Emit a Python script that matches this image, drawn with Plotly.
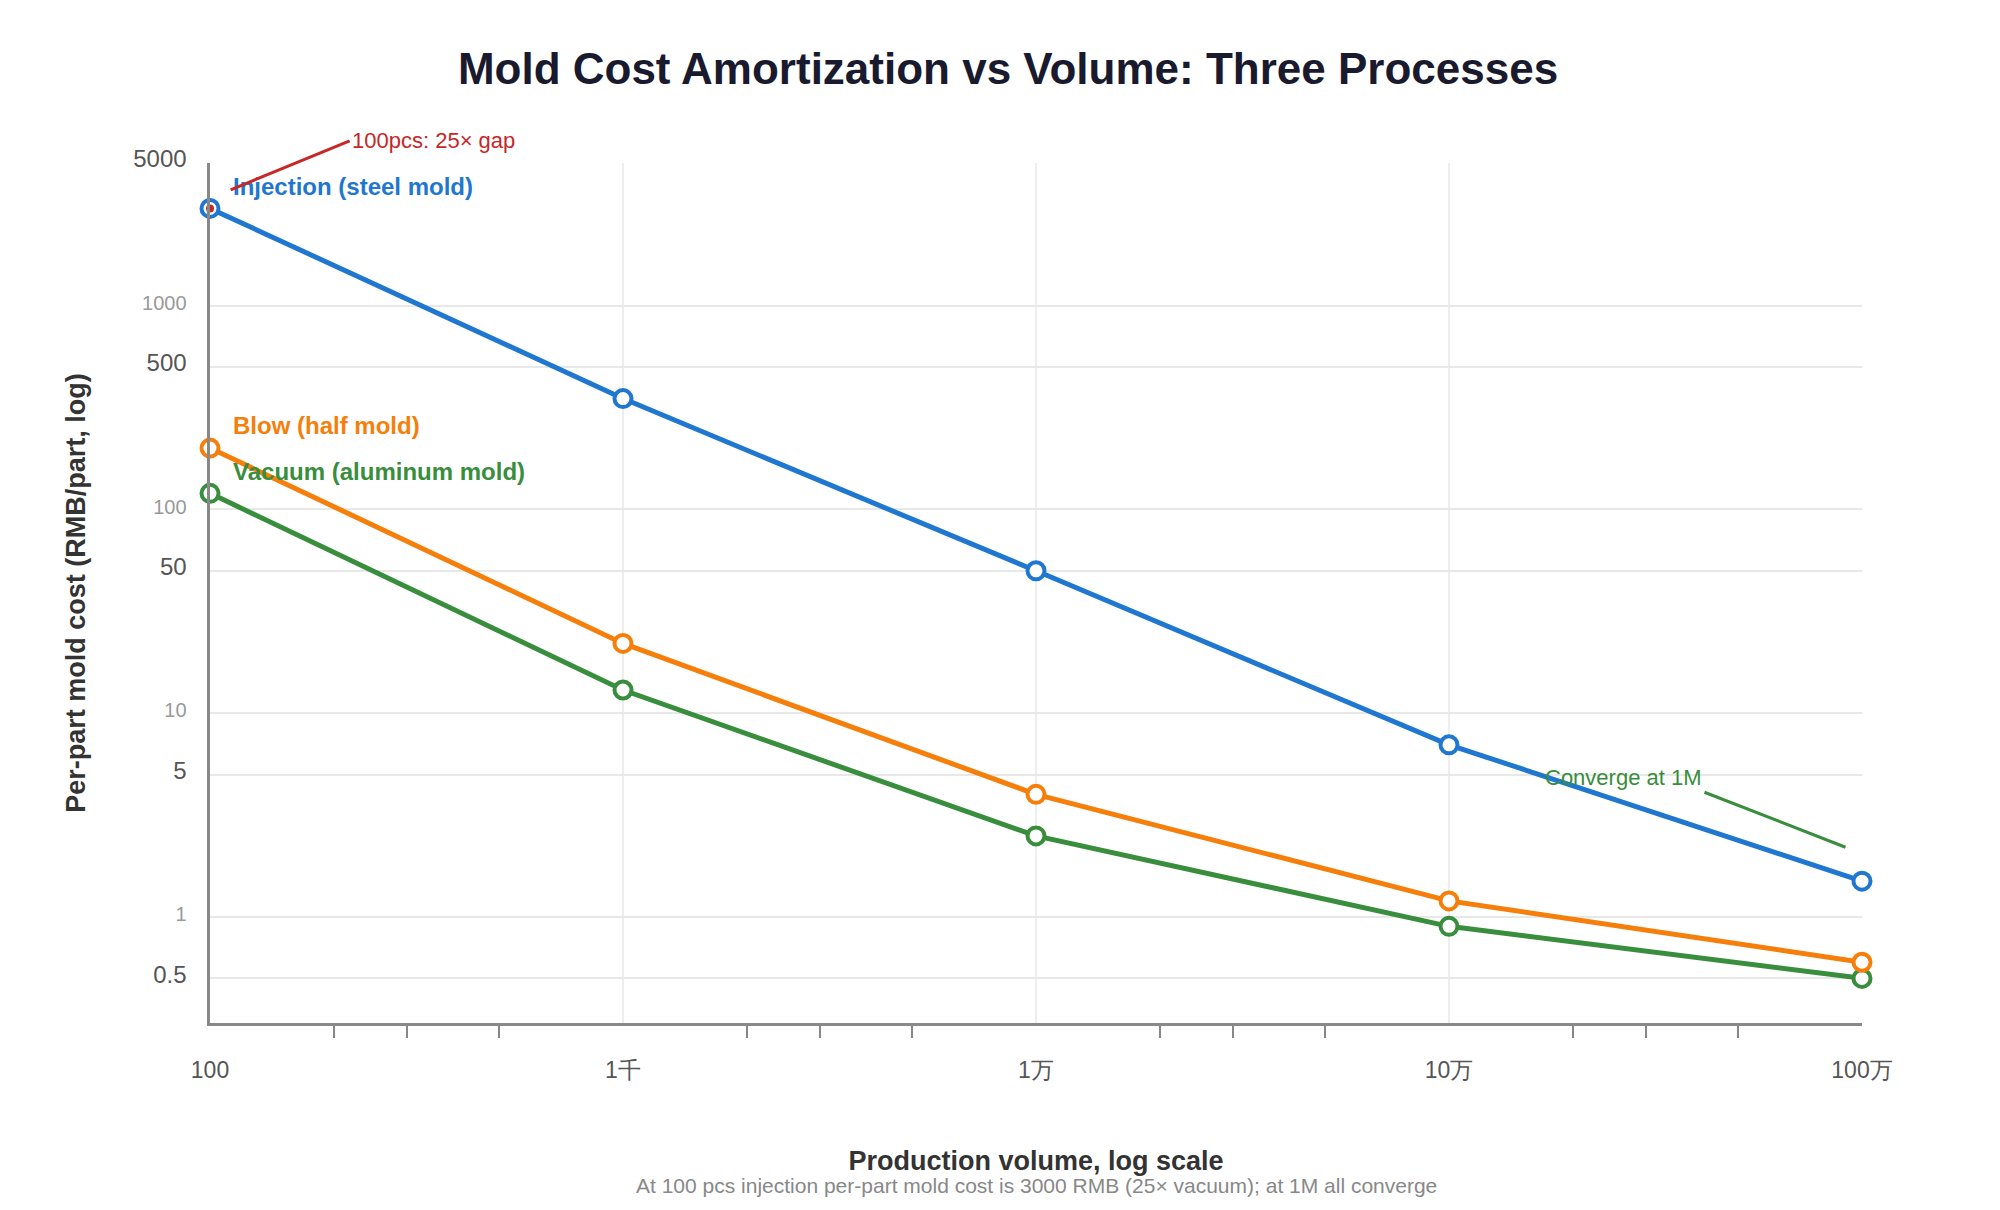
import math
import plotly.graph_objs as go

# Data
volume = [100, 1000, 10000, 100000, 1000000]
volume_labels = ['100', '1千', '1万', '10万', '100万']
injection = [3000, 350, 50, 7, 1.5]
blow = [200, 22, 4, 1.2, 0.6]
vacuum = [120, 13, 2.5, 0.9, 0.5]

y_ticks = [5000, 1000, 500, 100, 50, 10, 5, 1, 0.5]

BLUE = '#1f77d0'
ORANGE = '#f57f0a'
GREEN = '#388e3c'
RED = '#c62828'
FONT = 'Liberation Sans, Arial, sans-serif'


def tick_text(v):
    s = f'{v:g}'
    if str(v).startswith('1'):
        return f'<span style="font-size:20px;color:#999">{s}</span>'
    return f'<span style="font-size:24px;color:#555">{s}</span>'


fig = go.Figure()
for name, vals, col in [('Vacuum', vacuum, GREEN), ('Blow', blow, ORANGE),
                        ('Injection', injection, BLUE)]:
    fig.add_trace(go.Scatter(
        x=volume, y=vals, mode='lines+markers', name=name, cliponaxis=False,
        line=dict(color=col, width=5),
        marker=dict(symbol='circle', size=17, color='white',
                    line=dict(color=col, width=4))))

# red dot highlighting the 100 pcs injection point
fig.add_trace(go.Scatter(x=volume[:1], y=injection[:1], mode='markers',
                         cliponaxis=False,
                         marker=dict(size=8, color=RED), showlegend=False))

labels = [('Injection (steel mold)', 3860, BLUE),
          ('Blow (half mold)', 258, ORANGE),
          ('Vacuum (aluminum mold)', 154, GREEN)]
for txt, yv, col in labels:
    fig.add_annotation(x=2.05, y=math.log10(yv), text=f'<b>{txt}</b>',
                       showarrow=False, xanchor='left', yanchor='middle',
                       font=dict(size=24, color=col, family=FONT))

fig.add_annotation(x=2.05, y=math.log10(3700), text='100pcs: 25× gap',
                   showarrow=True, arrowhead=0, arrowwidth=3, arrowcolor=RED,
                   ax=119, ay=-49, xanchor='left',
                   font=dict(size=22, color=RED, family=FONT))
fig.add_annotation(x=5.96, y=math.log10(2.2), text='Converge at 1M',
                   showarrow=True, arrowhead=0, arrowwidth=3, arrowcolor=GREEN,
                   ax=-141, ay=-55, xanchor='right', yanchor='bottom',
                   font=dict(size=22, color=GREEN, family=FONT))

fig.add_annotation(x=0.5, y=-0.205, xref='paper', yref='paper', showarrow=False,
                   text='At 100 pcs injection per-part mold cost is 3000 RMB (25× vacuum); at 1M all converge',
                   font=dict(size=21, color='#888', family=FONT))

fig.update_layout(
    width=2000, height=1210, plot_bgcolor='white', paper_bgcolor='white',
    showlegend=False, font=dict(family=FONT),
    margin=dict(l=202, r=146, t=155, b=195),
    title=dict(text='<b>Mold Cost Amortization vs Volume: Three Processes</b>',
               x=0.5, y=0.963, xanchor='center',
               font=dict(size=44, color='#1a1a2e', family=FONT)),
)
fig.update_xaxes(
    type='log', range=[2, 6], tickvals=volume, ticktext=volume_labels,
    tickfont=dict(size=23, color='#555'), ticks='', ticklabelstandoff=24,
    showgrid=True, gridcolor='#eeeeee', gridwidth=2,
    showline=True, linecolor='#888', linewidth=3,
    minor=dict(tickvals=[200, 300, 500, 2000, 3000, 5000, 20000, 30000, 50000,
                         200000, 300000, 500000],
               ticks='outside', ticklen=12, tickcolor='#888', tickwidth=2,
               showgrid=False),
    title=dict(text='<b>Production volume, log scale</b>',
               font=dict(size=27, color='#333'), standoff=70),
)
fig.update_yaxes(
    type='log', range=[-0.52, 3.7], tickvals=y_ticks,
    ticktext=[tick_text(v) for v in y_ticks], ticks='', ticklabelstandoff=18,
    showgrid=True, gridcolor='#e8e8e8', gridwidth=2,
    showline=True, linecolor='#888', linewidth=3,
    title=dict(text='<b>Per-part mold cost (RMB/part, log)</b>',
               font=dict(size=27, color='#333'), standoff=40),
)

fig.write_html('out.html')
